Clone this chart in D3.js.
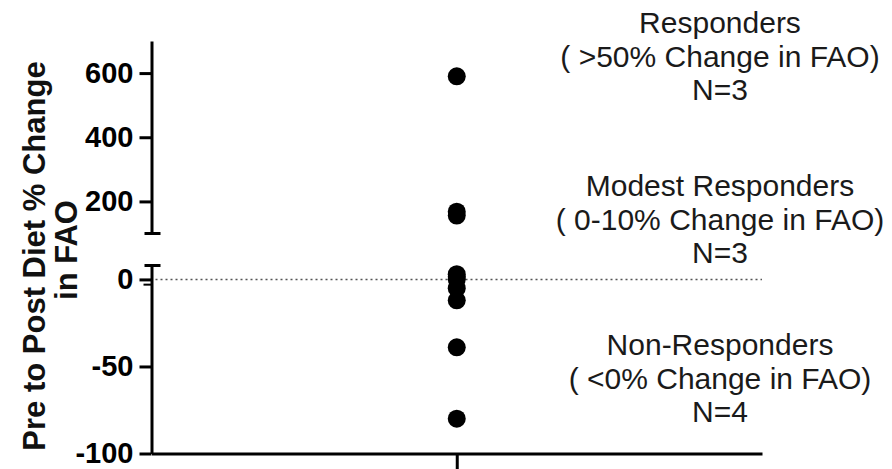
<!DOCTYPE html>
<html>
<head>
<meta charset="utf-8">
<script src="https://cdn.jsdelivr.net/npm/d3@7"></script>
<style>
  html, body { margin: 0; padding: 0; background: #fff; }
  svg { display: block; }
  text { font-family: "Liberation Sans", Arial, sans-serif; }
</style>
</head>
<body>
<svg id="chart" width="892" height="469"></svg>
<script>
// Percent change in FAO from pre to post diet, one dot per subject
const faoChange = [590, 168, 156, 3, 1.5, 0, -5, -12, -39, -80];
const category = ["Diet"];

// Broken y axis: upper and lower segments
const upperTicks = [200, 400, 600];
const lowerTicks = [-100, -50, 0];
const upperDomain = [100, 700];
const lowerDomain = [-100, 8];

// Group annotations
const groupTitles = ["Responders", "Modest Responders", "Non-Responders"];
const groupRules = ["( >50% Change in FAO)", "( 0-10% Change in FAO)", "( <0% Change in FAO)"];
const groupCounts = ["N=3", "N=3", "N=4"];

const svg = d3.select("#chart");
const axisX = 151.5, plotRight = 762;

const x = d3.scalePoint().domain(category).range([axisX, plotRight]).padding(0.5);
const yUp = d3.scaleLinear().domain(upperDomain).range([233.5, 41]);
const yLo = d3.scaleLinear().domain(lowerDomain).range([453.5, 265.5]);
const yOf = v => v > 50 ? yUp(v) : yLo(v);
const fmt = d => String(d);

function styleAxis(g) {
  g.select(".domain").attr("stroke", "#000").attr("stroke-width", 3);
  g.selectAll(".tick line").attr("stroke", "#000").attr("stroke-width", 3);
  g.selectAll(".tick text")
    .attr("fill", "#000")
    .attr("font-size", 29)
    .attr("font-weight", "bold")
    .attr("font-family", "'Liberation Sans', Arial, sans-serif");
}

// Upper axis segment
const gUp = svg.append("g").attr("transform", `translate(${axisX},0)`)
  .call(d3.axisLeft(yUp).tickValues(upperTicks).tickFormat(fmt)
    .tickSize(12).tickSizeOuter(0).tickPadding(6));
styleAxis(gUp);
// Lower axis segment
const gLo = svg.append("g").attr("transform", `translate(${axisX},0)`)
  .call(d3.axisLeft(yLo).tickValues(lowerTicks).tickFormat(fmt)
    .tickSize(12).tickSizeOuter(0).tickPadding(6));
styleAxis(gLo);
// Short minor tick just below zero
svg.append("line").attr("x1", axisX - 8).attr("x2", axisX)
  .attr("y1", yLo(-3)).attr("y2", yLo(-3))
  .attr("stroke", "#000").attr("stroke-width", 2);

// Caps at the axis break
const cap = (yy) => svg.append("line").attr("x1", axisX - 7).attr("x2", axisX + 9)
  .attr("y1", yy).attr("y2", yy).attr("stroke", "#000").attr("stroke-width", 3);
cap(yUp(upperDomain[0]));
cap(yLo(lowerDomain[1]));

// X axis
const gx = svg.append("g").attr("transform", `translate(0,${yLo(lowerDomain[0])})`)
  .call(d3.axisBottom(x).tickSize(16).tickSizeOuter(0).tickFormat(""));
gx.select(".domain").attr("stroke", "#000").attr("stroke-width", 3);
gx.selectAll(".tick line").attr("stroke", "#000").attr("stroke-width", 3);

// Zero reference line
svg.append("line")
  .attr("x1", axisX + 4).attr("x2", plotRight)
  .attr("y1", yLo(0)).attr("y2", yLo(0))
  .attr("stroke", "#555").attr("stroke-width", 1.6)
  .attr("stroke-dasharray", "2,3");

// Data points
svg.append("g").selectAll("circle").data(faoChange).join("circle")
  .attr("cx", x("Diet"))
  .attr("cy", d => yOf(d))
  .attr("r", 9)
  .attr("fill", "#000");

// Y axis title
const titleG = svg.append("g").attr("font-size", 31).attr("font-weight", "bold")
  .attr("fill", "#111").attr("text-anchor", "middle");
titleG.append("text")
  .attr("transform", "translate(45,256) rotate(-90)")
  .text("Pre to Post Diet % Change");
titleG.append("text")
  .attr("transform", "translate(77,250) rotate(-90)")
  .text("in FAO");

// Group annotations
const blockBaselines = [33, 196, 355];
const annCx = 720;
groupTitles.forEach((t, i) => {
  const g = svg.append("g").attr("font-size", 30).attr("fill", "#1a1a1a").attr("text-anchor", "middle");
  [t, groupRules[i], groupCounts[i]].forEach((s, j) => {
    g.append("text").attr("x", annCx).attr("y", blockBaselines[i] + j * 33.5).text(s);
  });
});
</script>
</body>
</html>
